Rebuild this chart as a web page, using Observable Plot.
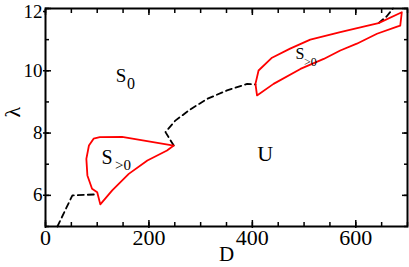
<!DOCTYPE html>
<html>
<head>
<meta charset="utf-8">
<script src="https://cdn.jsdelivr.net/npm/d3@7"></script>
<script src="https://cdn.jsdelivr.net/npm/@observablehq/plot@0.6"></script>
<style>
  html, body { margin: 0; padding: 0; background: #fff; }
  svg { display: block; }
  svg text { font-family: 'Liberation Serif', 'Times New Roman', serif; }
</style>
</head>
<body>
<div id="chart"></div>
<script>
// Left stable loop S>0
const loopLeftD = [106, 100, 90, 81, 79, 84, 93, 105, 148, 248, 235, 197, 161, 129, 106];
const loopLeftL = [5.71, 6.10, 6.21, 6.64, 7.17, 7.60, 7.82, 7.87, 7.88, 7.60, 7.44, 7.12, 6.69, 6.16, 5.71];
// Right stable loop S>0
const loopRightD = [406, 412, 438, 473, 512, 570, 615, 644, 689, 686, 680, 641, 602, 570, 538, 493, 441, 409, 406];
const loopRightL = [9.58, 10.01, 10.42, 10.71, 11.00, 11.24, 11.42, 11.53, 11.88, 11.45, 11.42, 11.19, 10.87, 10.65, 10.38, 10.06, 9.58, 9.21, 9.58];
// Dashed boundaries
const dash1D = [23, 52, 97];
const dash1L = [5.0, 6.0, 6.03];
const dash2D = [248, 232, 251, 280, 313, 351, 390, 406];
const dash2L = [7.60, 8.03, 8.40, 8.76, 9.10, 9.37, 9.58, 9.56];
const dash3D = [644, 660, 672];
const dash3L = [11.53, 11.75, 12.0];
// Tick values
const xMajor = [0, 200, 400, 600];
const xMinor = d3.range(0, 701, 50);
const yMajor = [6, 8, 10, 12];
const yLabelsLow = [6, 8, 10];
const yLabelsTop = [12];
const yMinor = d3.range(5, 13, 1);
// Region labels (data coordinates)
const labMain = ["S", "S", "S", "U"];
const labSub = ["0", ">0", ">0", ""];
const labD = [146, 119, 492, 425];
const labL = [9.83, 7.22, 10.55, 7.32];

const zipPts = (a, b) => a.map((v, i) => [v, b[i]]);
const font = "'Liberation Serif', 'Times New Roman', serif";
const fmt = d => String(d);

const chart = Plot.plot({
  width: 409,
  height: 267,
  marginLeft: 45,
  marginRight: 2,
  marginTop: 8,
  marginBottom: 41,
  style: { fontFamily: font, background: "#fff", color: "#000" },
  x: { domain: [0, 700], label: null },
  y: { domain: [5, 12], label: null },
  marks: [
    // inward minor ticks on all four sides
    Plot.axisX({ ticks: xMinor, tickSize: -4, tickFormat: () => "", strokeWidth: 1.5, label: null }),
    Plot.axisX({ anchor: "top", ticks: xMinor, tickSize: -4, tickFormat: () => "", strokeWidth: 1.5, label: null }),
    Plot.axisY({ ticks: yMinor, tickSize: -4, tickFormat: () => "", strokeWidth: 1.5, label: null }),
    Plot.axisY({ anchor: "right", ticks: yMinor, tickSize: -4, tickFormat: () => "", strokeWidth: 1.5, label: null }),
    // major ticks
    Plot.axisX({ ticks: xMajor, tickSize: -6, tickFormat: () => "", strokeWidth: 1.5, label: null }),
    Plot.axisX({ anchor: "top", ticks: xMajor, tickSize: -6, tickFormat: () => "", strokeWidth: 1.5, label: null }),
    Plot.axisY({ ticks: yMajor, tickSize: -6, tickFormat: () => "", strokeWidth: 1.5, label: null }),
    Plot.axisY({ anchor: "right", ticks: yMajor, tickSize: -6, tickFormat: () => "", strokeWidth: 1.5, label: null }),
    // tick labels
    Plot.axisX({ ticks: xMajor, tickSize: 2, tickPadding: 1, tickFormat: fmt, fontSize: 22, fontFamily: font, strokeWidth: 1.5, label: null }),
    Plot.axisY({ ticks: yLabelsLow, tickSize: 2, tickPadding: 1, tickFormat: fmt, fontSize: 19, fontFamily: font, strokeWidth: 1.5, label: null }),
    Plot.axisY({ ticks: yLabelsTop, tickSize: 2, tickPadding: 1, tickFormat: fmt, fontSize: 19, fontFamily: font, strokeWidth: 1.5, label: null, textStroke: null, dy: 3 }),
    Plot.frame({ stroke: "#000", strokeWidth: 2 }),
    // dashed boundaries
    Plot.line(zipPts(dash1D, dash1L), { stroke: "#000", strokeWidth: 1.8, strokeDasharray: "6,4" }),
    Plot.line(zipPts(dash2D, dash2L), { stroke: "#000", strokeWidth: 1.8, strokeDasharray: "6,4" }),
    Plot.line(zipPts(dash3D, dash3L), { stroke: "#000", strokeWidth: 1.8, strokeDasharray: "6,4" }),
    // red loops
    Plot.line(zipPts(loopLeftD, loopLeftL), { stroke: "#ff0000", strokeWidth: 1.8, strokeLinejoin: "round" }),
    Plot.line(zipPts(loopRightD, loopRightL), { stroke: "#ff0000", strokeWidth: 1.8, strokeLinejoin: "round" }),
    // region labels
    Plot.text([0], { x: () => labD[0], y: () => labL[0], text: () => labMain[0], fontSize: 19, fontFamily: font, lineAnchor: "middle" }),
    Plot.text([0], { x: () => labD[0], y: () => labL[0], text: () => labSub[0], fontSize: 16, fontFamily: font, lineAnchor: "middle", textAnchor: "start", dx: 6, dy: 8 }),
    Plot.text([0], { x: () => labD[1], y: () => labL[1], text: () => labMain[1], fontSize: 20, fontFamily: font, lineAnchor: "middle" }),
    Plot.text([0], { x: () => labD[1], y: () => labL[1], text: () => labSub[1], fontSize: 15, fontFamily: font, lineAnchor: "middle", textAnchor: "start", dx: 8, dy: 8 }),
    Plot.text([0], { x: () => labD[2], y: () => labL[2], text: () => labMain[2], fontSize: 16, fontFamily: font, lineAnchor: "middle" }),
    Plot.text([0], { x: () => labD[2], y: () => labL[2], text: () => labSub[2], fontSize: 12, fontFamily: font, lineAnchor: "middle", textAnchor: "start", dx: 4, dy: 8 }),
    Plot.text([0], { x: () => labD[3], y: () => labL[3], text: () => labMain[3], fontSize: 22, fontFamily: font, lineAnchor: "middle" }),
    // axis titles
    Plot.text(["λ"], { frameAnchor: "left", dx: -33, rotate: -90, fontSize: 22, fontFamily: font, lineAnchor: "middle" }),
    Plot.text(["D"], { frameAnchor: "bottom", dy: 28, fontSize: 21, fontFamily: font, lineAnchor: "middle" })
  ]
});
document.getElementById("chart").appendChild(chart);
</script>
</body>
</html>
